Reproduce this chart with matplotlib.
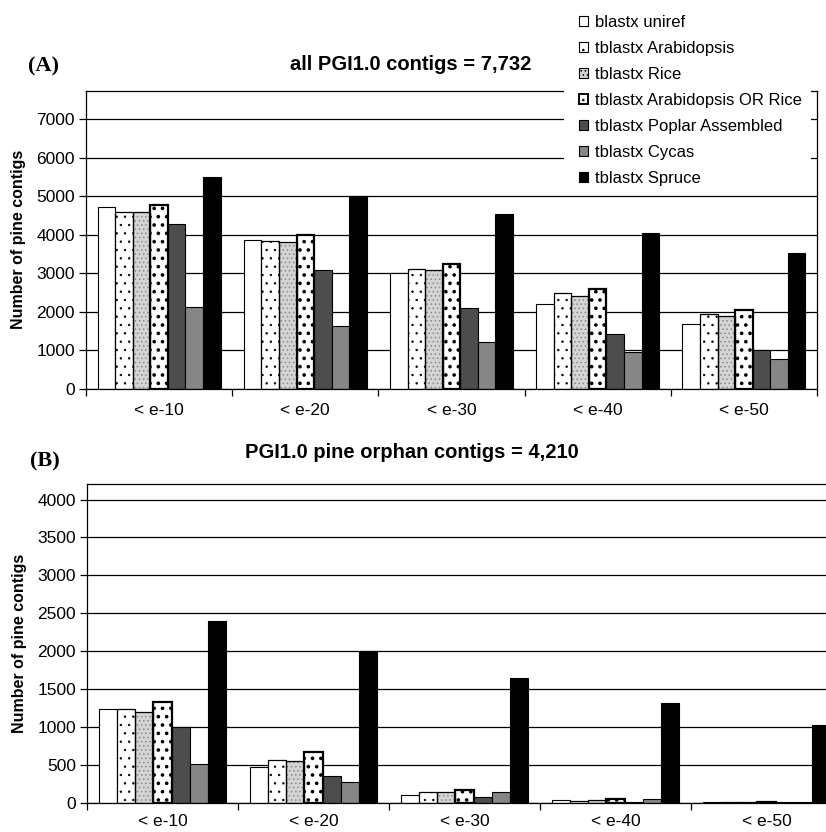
import numpy as np
import matplotlib
matplotlib.use("Agg")
import matplotlib.pyplot as plt
from matplotlib.patches import Patch, Rectangle

plt.rcParams['font.family'] = ['Liberation Sans', 'DejaVu Sans']

categories = ["< e-10", "< e-20", "< e-30", "< e-40", "< e-50"]
series = ["blastx uniref", "tblastx Arabidopsis", "tblastx Rice",
          "tblastx Arabidopsis OR Rice", "tblastx Poplar Assembled",
          "tblastx Cycas", "tblastx Spruce"]

# panel A: all PGI1.0 contigs
uniref_a = [4710, 3850, 3015, 2205, 1690]
arab_a = [4600, 3840, 3110, 2490, 1955]
rice_a = [4600, 3815, 3075, 2420, 1885]
arab_or_rice_a = [4770, 3980, 3250, 2590, 2040]
poplar_a = [4280, 3075, 2090, 1430, 1000]
cycas_a = [2130, 1630, 1225, 965, 775]
spruce_a = [5500, 5005, 4530, 4040, 3515]

# panel B: pine orphan contigs
uniref_b = [1240, 470, 100, 30, 5]
arab_b = [1240, 570, 145, 27, 8]
rice_b = [1200, 545, 137, 40, 8]
arab_or_rice_b = [1330, 665, 167, 55, 10]
poplar_b = [1005, 352, 80, 15, 8]
cycas_b = [515, 268, 137, 45, 8]
spruce_b = [2400, 2000, 1647, 1310, 1025]

data_a = [uniref_a, arab_a, rice_a, arab_or_rice_a, poplar_a, cycas_a, spruce_a]
data_b = [uniref_b, arab_b, rice_b, arab_or_rice_b, poplar_b, cycas_b, spruce_b]

# (face, hatch, hatch colour, hatch lw, edge lw)
styles = [
    ("white", None, None, 0, 0.8),
    ("white", "..", "black", 0.5, 0.9),
    ("#d4d4d4", "....", "#8a8a8a", 0.6, 0.9),
    ("white", "..", "black", 1.4, 1.6),
    ("#4d4d4d", None, None, 0, 0.8),
    ("#868686", None, None, 0, 0.8),
    ("black", None, None, 0, 0.8),
]

W = 0.12
TICK_FS = 12.5


def draw_panel(ax, data, ymax, ystep, xpad):
    x = np.arange(len(categories))
    for k, vals in enumerate(data):
        face, hatch, hcol, hlw, lw = styles[k]
        pos = x + (k - 3) * W
        if hatch:
            with plt.rc_context({'hatch.linewidth': hlw}):
                ax.bar(pos, vals, W, color=face, hatch=hatch, edgecolor=hcol,
                       linewidth=0, zorder=2)
            ax.bar(pos, vals, W, fill=False, edgecolor="black",
                   linewidth=lw, zorder=3)
        else:
            ax.bar(pos, vals, W, color=face, edgecolor="black",
                   linewidth=lw, zorder=2)
    ax.set_xlim(-0.5, len(categories) - 0.5)
    ax.set_ylim(0, ymax)
    ax.set_yticks(np.arange(0, ymax, ystep))
    ax.yaxis.grid(True, color="black", lw=0.9)
    ax.set_axisbelow(True)
    ax.set_xticks(np.arange(len(categories) + 1) - 0.5)
    ax.set_xticklabels([])
    ax.set_xticks(np.arange(len(categories)), minor=True)
    ax.set_xticklabels(categories, minor=True)
    ax.tick_params(axis="x", which="minor", length=0, pad=xpad, labelsize=TICK_FS)
    ax.tick_params(axis="x", which="major", length=5, width=0.9)
    ax.tick_params(axis="y", length=5, width=0.9, labelsize=TICK_FS, pad=3)
    for s in ax.spines.values():
        s.set_linewidth(0.9)
    ax.set_ylabel("Number of pine contigs", fontsize=11.5, fontweight="bold")


fig = plt.figure(figsize=(8.26, 8.32), dpi=100)
axA = fig.add_axes([86 / 826, 1 - 389 / 832, 731 / 826, 298.3 / 832])
axB = fig.add_axes([87 / 826, 1 - 802.7 / 832, 755 / 826, 319 / 832])

draw_panel(axA, data_a, 7732, 1000, 10)
draw_panel(axB, data_b, 4210, 500, 8)
axA.yaxis.set_label_coords(-0.082, 0.5)
axB.yaxis.set_label_coords(-0.08, 0.5)

serif = ["Liberation Serif", "DejaVu Serif"]
fig.text(28 / 826, 1 - 66 / 832, "(A)", family=serif,
         fontsize=16, fontweight="bold", va="center")
fig.text(411 / 826, 1 - 65 / 832, "all PGI1.0 contigs = 7,732",
         fontsize=14.5, fontweight="bold", ha="center", va="center")
fig.text(30 / 826, 1 - 461 / 832, "(B)", family=serif,
         fontsize=16, fontweight="bold", va="center")
fig.text(412 / 826, 1 - 453 / 832, "PGI1.0 pine orphan contigs = 4,210",
         fontsize=14.5, fontweight="bold", ha="center", va="center")

# white box behind the legend (hides grid lines)
fig.patches.append(Rectangle((564 / 826, 1 - 194 / 832), 247 / 826, 194 / 832,
                             transform=fig.transFigure, facecolor="white",
                             edgecolor="none", zorder=1))

handles = []
for k, name in enumerate(series):
    face, hatch, hcol, hlw, lw = styles[k]
    handles.append(Patch(facecolor=face, hatch=hatch, edgecolor="black",
                         linewidth=0.8 if lw < 1.5 else 1.4, label=name))
with plt.rc_context({'hatch.linewidth': 0.6}):
    fig.legend(handles=handles, loc="upper left",
               bbox_to_anchor=(567 / 826, 1 - 3 / 832),
               frameon=False, fontsize=12, handlelength=0.55, handleheight=0.55,
               handletextpad=0.4, labelspacing=0.66, borderpad=0.2)

fig.savefig("out.png", dpi=100)
